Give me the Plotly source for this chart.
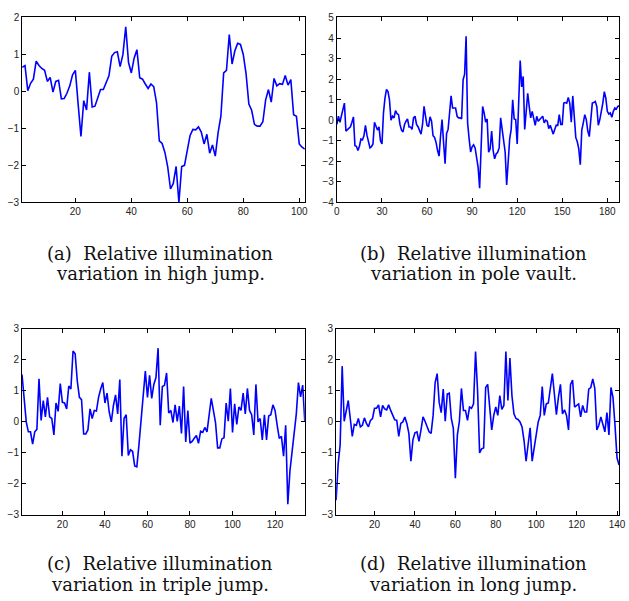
import plotly.graph_objects as go

# ---------------- data ----------------
high_jump = [0.65, 0.70, 0.02, 0.22, 0.33, 0.82, 0.70, 0.62, 0.57, 0.27,
             0.38, -0.02, 0.27, 0.30, -0.20, -0.19, -0.05, 0.15, 0.45, 0.57,
             -0.35, -1.22, -0.25, -0.50, 0.52, -0.42, -0.40, -0.20, 0.05, 0.05,
             0.25, 0.42, 0.95, 1.05, 1.07, 0.67, 1.00, 1.75, 0.78, 0.50,
             0.90, 1.13, 0.37, 0.33, 0.20, 0.08, 0.20, 0.13, -0.30, -1.34,
             -1.41, -1.65, -2.04, -2.64, -2.49, -2.03, -3.00, -2.03, -2.00, -1.60,
             -1.19, -1.03, -1.04, -0.96, -1.10, -1.42, -1.16, -1.67, -1.45, -1.75,
             -1.12, -0.67, 0.50, 0.57, 1.54, 0.74, 1.10, 1.30, 1.27, 1.00,
             0.48, -0.34, -0.51, -0.89, -0.94, -0.94, -0.82, -0.23, 0.05, -0.29,
             0.35, 0.15, 0.21, 0.19, 0.43, 0.17, 0.32, -0.63, -0.67, -1.42,
             -1.51, -1.56]

pole_vault = [-0.21, 0.19, -0.10, 0.27, 0.55, 0.83, -0.53, -0.45, -0.37, -0.32,
              -0.10, 0.16, -1.24, -1.27, -1.48, -1.27, -0.92, -0.96, -0.76, -0.25,
              -0.73, -1.05, -1.35, -1.29, -1.16, -0.10, -0.29, -0.48, -0.33, -1.00,
              -1.16, 0.35, 1.07, 1.50, 1.39, 0.99, 0.00, 0.19, 0.11, 0.46,
              0.32, 0.27, -0.21, -0.49, -0.57, -0.21, -0.05, 0.06, -0.33, -0.33,
              -0.45, 0.11, 0.19, -0.21, -0.32, -0.53, -0.68, -0.21, 0.67, 0.19,
              -0.25, -0.32, 0.16, -0.05, -0.76, -0.84, -1.08, -1.48, -1.75, -0.76,
              0.03, -1.08, -2.12, -0.65, -0.45, 0.35, 1.18, 0.59, 0.59, 0.59,
              0.19, 0.11, 0.11, 0.06, 1.97, 2.23, 4.09, -0.13, -0.90, -1.55,
              -1.30, -1.20, -1.35, -1.80, -2.30, -3.31, -1.00, 0.67, 0.35, -0.10,
              0.06, -1.56, -1.40, -0.53, -1.48, -1.88, -1.64, -1.56, -1.35, 0.11,
              -0.45, -1.08, -1.56, -3.15, -1.88, -0.92, -0.45, 0.99, 0.06, 0.03,
              -1.16, 1.54, 2.90, 1.62, 2.13, -0.45, 0.51, 1.31, 0.67, 0.11,
              0.43, 0.11, -0.25, 0.19, -0.05, 0.03, 0.11, 0.19, -0.13, 0.00,
              -0.05, -0.41, -0.25, -0.53, -0.68, -0.45, -0.24, -0.25, 0.27, -0.21,
              -0.21, 0.83, 0.86, 0.83, 1.11, 0.83, -0.10, 1.18, 0.11, -0.84,
              -1.05, -1.40, -2.17, -0.48, -0.13, 0.27, 0.03, -0.53, -0.80, -0.05,
              0.83, 0.86, 0.91, 0.67, -0.25, 0.03, 0.38, 0.83, 1.39, 1.07,
              0.43, 0.30, 0.35, 0.14, 0.43, 0.59, 0.54, 0.67, 0.70]

triple_jump = [1.52, 0.84, -0.01, -0.33, -0.33, -0.73, -0.33, -0.25, 1.38, 0.04,
               0.68, 0.15, 0.78, 0.15, 0.10, -0.43, 0.60, 0.33, 1.23, 0.62,
               0.60, 0.41, 1.15, 1.05, 2.28, 2.19, 1.31, 0.78, 0.71, -0.40,
               -0.40, -0.27, 0.41, 0.10, 0.36, 0.34, 0.78, 1.05, 1.26, 0.60,
               0.92, 0.31, -0.01, 0.52, 0.86, 0.25, 1.36, -1.12, 0.10, 0.22,
               -1.09, -0.91, -0.96, -1.43, -1.46, -0.75, 0.15, 0.73, 1.63, 0.78,
               1.49, 0.75, 1.20, 1.42, 2.37, -0.12, 1.13, 1.17, 1.57, 0.28,
               0.36, -0.03, 0.54, 0.01, 0.50, -0.38, 1.13, -0.66, 0.36, -0.70,
               -0.64, -0.54, -0.45, -0.70, -0.31, -0.35, -0.19, -0.33, 0.31, 0.75,
               0.36, -0.03, -0.85, -0.85, -0.56, -0.52, 0.60, 0.01, 1.07, -0.35,
               0.57, -0.09, 0.47, 0.36, 0.92, 0.25, 1.07, 0.36, 0.22, -0.43,
               1.20, -0.01, 0.10, -0.59, 0.22, -0.59, 0.18, 0.22, 0.54, 0.36,
               -0.12, -0.54, -0.48, -1.12, -0.12, -2.67, -1.59, -0.96, -0.54, 0.25,
               1.26, 0.80, 1.18, -0.01]

long_jump = [-2.54, -1.38, -0.75, 1.79, 0.01, 0.31, 0.68, 0.10, -0.48, -0.09,
             -0.12, 0.10, -0.17, -0.12, 0.12, -0.06, -0.17, 0.04, 0.10, 0.43,
             0.43, 0.54, 0.15, 0.52, 0.41, 0.38, 0.54, 0.36, 0.22, 0.06,
             0.04, -0.48, -0.06, -0.01, 0.15, -0.06, -0.38, -1.28, -0.59, -0.36,
             -0.33, -0.64, -0.27, 0.15, 0.01, -0.17, -0.33, -0.38, 0.20, 1.26,
             1.55, 0.62, 0.29, 1.05, 0.01, 0.89, 0.92, 0.10, -0.22, -1.83,
             -0.43, 0.01, 1.07, 0.36, 0.36, 0.04, 0.47, 0.43, 0.57, 2.26,
             0.99, -1.01, -0.88, -0.85, 1.10, 1.20, 0.41, -0.27, 0.20, 0.47,
             0.20, 0.84, 0.39, 0.52, 2.26, 0.68, 2.05, 0.84, 0.25, 0.10,
             0.07, -0.01, -0.17, -0.62, -1.28, -0.75, -0.20, -1.28, -0.85, -0.54,
             -0.01, 0.20, 1.13, 0.20, 0.57, 0.60, 1.10, 1.55, 0.89, 0.22,
             0.78, 1.20, 0.25, 0.38, 0.20, -0.27, 1.20, 1.34, 0.47, 0.52,
             0.57, 0.15, 0.52, 0.31, 0.31, 1.05, 1.10, 1.38, 1.07, -0.27,
             -0.12, 0.15, -0.09, -0.33, 0.29, -0.43, 1.10, 0.78, -0.12, -1.17,
             -1.40]

x_high = list(range(1, len(high_jump) + 1))
x_pole = list(range(0, len(pole_vault)))
x_triple = list(range(1, len(triple_jump) + 1))
x_long = list(range(1, len(long_jump) + 1))

xticks_high = [20, 40, 60, 80, 100]
xticks_pole = [0, 30, 60, 90, 120, 150, 180]
xticks_triple = [20, 40, 60, 80, 100, 120]
xticks_long = [20, 40, 60, 80, 100, 120, 140]
yticks_high = [-3, -2, -1, 0, 1, 2]
yticks_pole = [-4, -3, -2, -1, 0, 1, 2, 3, 4, 5]
yticks_triple = [-3, -2, -1, 0, 1, 2, 3]
yticks_long = [-3, -2, -1, 0, 1, 2, 3]

captions = [
    ("(a)\u00a0 Relative illumination", "variation in high jump."),
    ("(b)\u00a0 Relative illumination", "variation in pole vault."),
    ("(c)\u00a0 Relative illumination", "variation in triple jump."),
    ("(d)\u00a0 Relative illumination", "variation in long jump."),
]

# ---------------- figure ----------------
W, H = 629, 601
fig = go.Figure()

panels = [
    (x_high, high_jump, [1, 102], xticks_high, [-3, 2], yticks_high, (19.5, 306.7), (12.7, 201)),
    (x_pole, pole_vault, [0, 188], xticks_pole, [-4, 5], yticks_pole, (339.3, 626.3), (12.7, 201)),
    (x_triple, triple_jump, [1, 134], xticks_triple, [-3, 3], yticks_triple, (19.3, 306.7), (329.7, 519)),
    (x_long, long_jump, [1, 141], xticks_long, [-3, 3], yticks_long, (338.5, 626.0), (329.7, 519)),
]

tickfont = dict(family="Liberation Sans, Arial, sans-serif", size=10, color="#222222")

for i, (xs, ys, xr, xt, yr, yt, (px0, px1), (py0, py1)) in enumerate(panels):
    n = "" if i == 0 else str(i + 1)
    fig.add_trace(go.Scatter(x=xs, y=ys, mode="lines",
                             line=dict(color="#0000ff", width=1.6),
                             xaxis="x" + n, yaxis="y" + n, showlegend=False,
                             hoverinfo="skip"))
    common = dict(showline=True, linecolor="black", linewidth=1, mirror="ticks",
                  ticks="inside", ticklen=4, tickcolor="black", tickwidth=1,
                  showgrid=False, zeroline=False, tickfont=tickfont, fixedrange=True,
                  ticklabeloverflow="allow")
    fig.update_layout(**{
        "xaxis" + n: dict(domain=[px0 / W, px1 / W], range=xr, tickvals=xt,
                          anchor="y" + n, **common),
        "yaxis" + n: dict(domain=[1 - py1 / H, 1 - py0 / H], range=yr, tickvals=yt,
                          anchor="x" + n, **common),
    })

cap_font = dict(family="DejaVu Serif, Liberation Serif, serif", size=18, color="#111111")
cap_pos = [(160, 253, 274), (478, 253, 274), (160, 569, 590), (478, 569, 590)]
for (l1, l2), (cx, y1, y2) in zip(captions, cap_pos):
    for txt, yy in ((l1, y1), (l2, y2)):
        fig.add_annotation(text=txt, x=cx / W, y=1 - yy / H, xref="paper", yref="paper",
                           xanchor="center", yanchor="middle", showarrow=False,
                           font=cap_font)

fig.update_layout(width=W, height=H, margin=dict(l=0, r=0, t=0, b=0),
                  paper_bgcolor="white", plot_bgcolor="white")

fig.write_html("out.html")
